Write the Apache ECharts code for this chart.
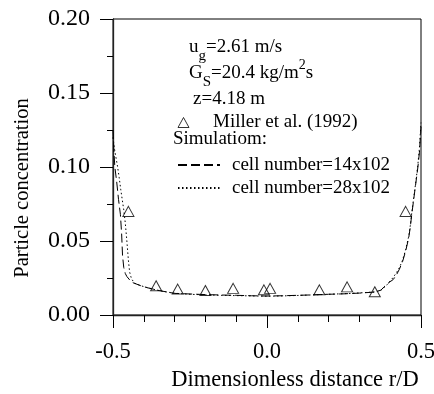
<!DOCTYPE html>
<html>
<head>
<meta charset="utf-8">
<script src="https://cdn.jsdelivr.net/npm/echarts@6/dist/echarts.min.js"></script>
<style>
html,body{margin:0;padding:0;background:#fff;}
#chart{width:434px;height:394px;}
</style>
</head>
<body>
<div id="chart"></div>
<script>
// ---- data ----
var xTicks = [-0.5, 0.0, 0.5];
var yTicks = [0.00, 0.05, 0.10, 0.15, 0.20];

var millerR = [-0.45, -0.36, -0.29, -0.20, -0.11, -0.01, 0.01, 0.17, 0.26, 0.35, 0.45];
var millerC = [0.070, 0.0198, 0.0175, 0.0165, 0.018, 0.017, 0.018, 0.017, 0.019, 0.0157, 0.070];

var sim14R = [-0.5, -0.497, -0.494, -0.488, -0.482, -0.476, -0.472, -0.469, -0.465, -0.46, -0.455, -0.445, -0.435, -0.41, -0.39, -0.35, -0.3, -0.25, -0.2, -0.15, -0.1, -0.05, 0, 0.05, 0.1, 0.15, 0.2, 0.25, 0.3, 0.35, 0.37, 0.38, 0.39, 0.4, 0.41, 0.42, 0.43, 0.44, 0.45, 0.46, 0.465, 0.47, 0.475, 0.48, 0.485, 0.49, 0.495, 0.5];
var sim14C = [0.125, 0.11, 0.1, 0.09, 0.078, 0.068, 0.055, 0.04, 0.032, 0.028, 0.026, 0.0235, 0.0218, 0.0198, 0.0185, 0.0165, 0.0146, 0.0142, 0.0138, 0.0135, 0.0133, 0.013, 0.0128, 0.013, 0.0133, 0.0136, 0.014, 0.0143, 0.0148, 0.0155, 0.0168, 0.019, 0.021, 0.0225, 0.024, 0.027, 0.031, 0.036, 0.043, 0.052, 0.059, 0.068, 0.076, 0.084, 0.092, 0.1, 0.11, 0.127];

var sim28R = [-0.5, -0.495, -0.49, -0.485, -0.48, -0.475, -0.47, -0.465, -0.46, -0.455, -0.45, -0.446, -0.44, -0.43, -0.41, -0.39, -0.35, -0.3, -0.25, -0.2, -0.15, -0.1, -0.05, 0, 0.05, 0.1, 0.15, 0.2, 0.25, 0.3, 0.35, 0.37, 0.38, 0.39, 0.4, 0.41, 0.42, 0.43, 0.44, 0.45, 0.46, 0.465, 0.47, 0.475, 0.48, 0.485, 0.49, 0.495, 0.5];
var sim28C = [0.12, 0.112, 0.106, 0.1, 0.093, 0.085, 0.078, 0.071, 0.062, 0.05, 0.037, 0.029, 0.0245, 0.0215, 0.0198, 0.0186, 0.0164, 0.0147, 0.014, 0.0136, 0.0133, 0.0131, 0.0129, 0.0127, 0.0129, 0.0132, 0.0136, 0.014, 0.0144, 0.0149, 0.0156, 0.0167, 0.0185, 0.0205, 0.023, 0.0255, 0.0285, 0.032, 0.037, 0.044, 0.053, 0.06, 0.069, 0.077, 0.085, 0.093, 0.102, 0.113, 0.13];

var seriesNames = ['Miller et al. (1992)', 'cell number=14x102', 'cell number=28x102'];
// -------------------------------------

function zip(a, b) { return a.map(function (v, i) { return [v, b[i]]; }); }

var FONT = 'Liberation Serif';
var chart = echarts.init(document.getElementById('chart'), null, {renderer: 'canvas'});

var axisLineStyle = {color: '#222', width: 1.3};

var option = {
  animation: false,
  backgroundColor: '#fff',
  grid: {
    left: 113, top: 19, width: 308, height: 296,
    containLabel: false, outerBoundsMode: 'none',
    show: true, borderColor: '#000', borderWidth: 1, backgroundColor: 'transparent'
  },
  xAxis: {
    type: 'value', min: -0.5, max: 0.5, interval: 0.5,
    name: 'Dimensionless distance r/D', nameLocation: 'middle', nameGap: 51,
    nameTextStyle: {fontFamily: FONT, fontSize: 22.5, color: '#000', padding: [0, 0, 0, 56]},
    axisLine: {show: true, onZero: false, lineStyle: axisLineStyle},
    axisTick: {show: true, inside: false, length: 13, lineStyle: {color: '#000', width: 1}},
    minorTick: {show: true, splitNumber: 5, length: 7, lineStyle: {color: '#000', width: 1}},
    splitLine: {show: false}, minorSplitLine: {show: false},
    axisLabel: {
      margin: 26, fontFamily: FONT, fontSize: 22.5, color: '#000',
      formatter: function (v) { var t = xTicks.filter(function (k) { return Math.abs(k - v) < 1e-9; }); return t.length ? t[0].toFixed(1) : ''; }
    }
  },
  yAxis: {
    type: 'value', min: 0, max: 0.2, interval: 0.05,
    name: 'Particle concentration', nameLocation: 'middle', nameGap: 80,
    nameTextStyle: {fontFamily: FONT, fontSize: 20.5, color: '#000', padding: [0, 42, 0, 0]},
    axisLine: {show: true, onZero: false, lineStyle: axisLineStyle},
    axisTick: {show: true, inside: false, length: 13, lineStyle: {color: '#000', width: 1}},
    minorTick: {show: true, splitNumber: 2, length: 6, lineStyle: {color: '#000', width: 1}},
    splitLine: {show: false}, minorSplitLine: {show: false},
    axisLabel: {
      margin: 23, fontFamily: FONT, fontSize: 24, color: '#000',
      formatter: function (v) { var t = yTicks.filter(function (k) { return Math.abs(k - v) < 1e-9; }); return t.length ? t[0].toFixed(2) : ''; }
    }
  },
  legend: [
    {
      data: [seriesNames[0]], orient: 'vertical', left: 172.5, top: 108,
      icon: 'triangle', itemWidth: 11, itemHeight: 10,
      itemStyle: {color: '#fff', borderColor: '#000', borderWidth: 1},
      textStyle: {fontFamily: FONT, fontSize: 19, color: '#000', padding: [0, 0, 0, 19]},
      selectedMode: false
    },
    {
      data: [seriesNames[1], seriesNames[2]], orient: 'vertical', left: 172, top: 150,
      itemWidth: 42, itemHeight: 14, itemGap: 3,
      itemStyle: {opacity: 0},
      textStyle: {fontFamily: FONT, fontSize: 19, color: '#000', lineHeight: 20, padding: [0, 0, 0, 7]},
      selectedMode: false
    }
  ],
  graphic: [
    {
      type: 'text', left: 189, top: 38,
      style: {
        text: '{a|u}{s|g}{a|=2.61 m/s}',
        rich: {
          a: {fontFamily: FONT, fontSize: 19, lineHeight: 22, verticalAlign: 'top', fill: '#000'},
          s: {fontFamily: FONT, fontSize: 15, lineHeight: 15, verticalAlign: 'top', padding: [11, 0, 0, 0], fill: '#000'}
        }
      }
    },
    {
      type: 'text', left: 189, top: 58,
      style: {
        text: '{a|G}{s|S}{a|=20.4 kg/m}{p|2}{a|s}',
        rich: {
          a: {fontFamily: FONT, fontSize: 19, lineHeight: 22, verticalAlign: 'top', padding: [6, 0, 0, 0], fill: '#000'},
          s: {fontFamily: FONT, fontSize: 15, lineHeight: 15, verticalAlign: 'top', padding: [17, 0, 0, 0], fill: '#000'},
          p: {fontFamily: FONT, fontSize: 14, lineHeight: 14, verticalAlign: 'top', padding: [0, 0, 0, 0], fill: '#000'}
        }
      }
    },
    {
      type: 'text', left: 193, top: 90,
      style: {text: 'z=4.18 m', fontFamily: FONT, fontSize: 19, fill: '#000'}
    },
    {
      type: 'text', left: 173, top: 130,
      style: {text: 'Simulatiom:', fontFamily: FONT, fontSize: 19, fill: '#000'}
    }
  ],
  series: [
    {
      name: seriesNames[0], type: 'scatter', data: zip(millerR, millerC),
      symbol: 'triangle', symbolSize: [11, 10], z: 5,
      itemStyle: {color: 'rgba(255,255,255,0)', borderColor: '#000', borderWidth: 1}
    },
    {
      name: seriesNames[1], type: 'line', data: zip(sim14R, sim14C),
      symbol: 'none', showSymbol: false, smooth: false,
      lineStyle: {color: '#000', width: 1, type: [9, 4]},
      itemStyle: {color: '#000', opacity: 0}
    },
    {
      name: seriesNames[2], type: 'line', data: zip(sim28R, sim28C),
      symbol: 'none', showSymbol: false, smooth: false,
      lineStyle: {color: '#000', width: 1, type: [1.5, 2.5]},
      itemStyle: {color: '#000', opacity: 0}
    }
  ]
};
chart.setOption(option);
</script>
</body>
</html>
